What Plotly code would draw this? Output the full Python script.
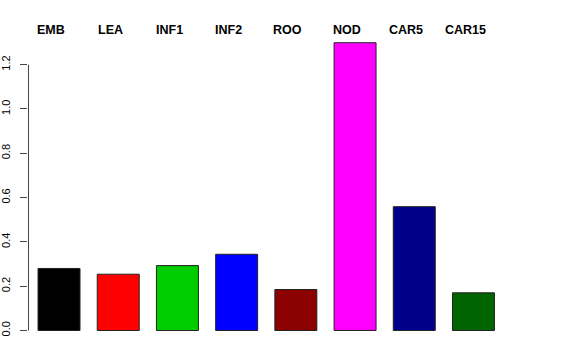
import plotly.graph_objects as go

categories = ["EMB", "LEA", "INF1", "INF2", "ROO", "NOD", "CAR5", "CAR15"]
values = [0.280, 0.254, 0.293, 0.344, 0.185, 1.299, 0.559, 0.170]
colors = ["#000000", "#FF0000", "#00CD00", "#0000FF", "#8B0000", "#FF00FF", "#00008B", "#006400"]
tick_vals = [0.0, 0.2, 0.4, 0.6, 0.8, 1.0, 1.2]
tick_text = ["0.0", "0.2", "0.4", "0.6", "0.8", "1.0", "1.2"]

xpos = list(range(len(categories)))

fig = go.Figure()
fig.add_trace(go.Bar(
    x=xpos, y=values, width=0.709,
    marker=dict(color=colors, line=dict(color="#222222", width=1)),
    hoverinfo="skip", showlegend=False,
))

for i, c in enumerate(categories):
    fig.add_annotation(
        x=i - 0.135, xref="x", y=1.002, yref="paper",
        text="<b>" + c + "</b>", showarrow=False,
        xanchor="center", yanchor="middle",
        font=dict(family="Liberation Sans, Arial, sans-serif", size=12.5, color="black"),
    )

fig.add_shape(type="line", xref="paper", x0=0.001, x1=0.001, yref="y", y0=0, y1=1.2,
              line=dict(color="#444444", width=1))

fig.update_layout(
    width=576, height=360,
    margin=dict(l=28, r=30, t=31, b=17.5, autoexpand=False),
    plot_bgcolor="white", paper_bgcolor="white",
    font=dict(family="Liberation Sans, Arial, sans-serif", color="black"),
    xaxis=dict(range=[-0.524, 8.225], showticklabels=False, showgrid=False,
               zeroline=False, showline=False, ticks="", automargin=False),
    yaxis=dict(range=[-0.052, 1.352], tickvals=tick_vals, ticktext=tick_text,
               tickangle=-90, ticks="outside", ticklen=7, tickcolor="#444444",
               tickwidth=1, showgrid=False, zeroline=False, showline=False,
               tickfont=dict(size=11, color="black"), ticklabelstandoff=6,
               automargin=False),
)

fig.write_html(
    "out.html",
    config={"displayModeBar": False, "staticPlot": True},
    post_script="document.body.style.margin='0';document.body.style.overflow='hidden';",
)
